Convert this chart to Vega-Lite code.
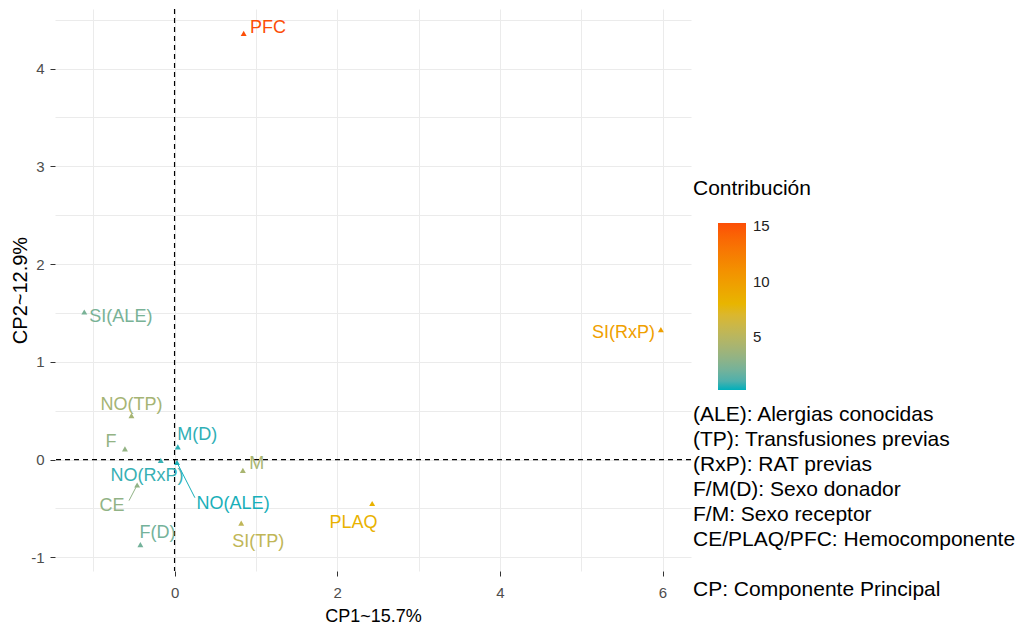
{
  "$schema": "https://vega.github.io/schema/vega-lite/v6.json",
  "width": 636,
  "height": 562,
  "autosize": {"type": "none"},
  "padding": {"left": 55, "top": 9, "right": 336, "bottom": 56},
  "background": "white",
  "config": {
    "font": "Liberation Sans",
    "view": {"stroke": null}
  },
  "title": {
    "text": "Contribución",
    "subtitle": ["(ALE): Alergias conocidas", "(TP): Transfusiones previas", "(RxP): RAT previas", "F/M(D): Sexo donador", "F/M: Sexo receptor", "CE/PLAQ/PFC: Hemocomponente", "\u200b", "CP: Componente Principal"],
    "orient": "top",
    "anchor": "start",
    "frame": "group",
    "align": "left",
    "dx": 638,
    "dy": 592,
    "offset": 0,
    "fontSize": 21,
    "fontWeight": "normal",
    "font": "Liberation Sans",
    "color": "black",
    "subtitleFontSize": 21,
    "subtitleFont": "Liberation Sans",
    "subtitleColor": "black",
    "subtitleLineHeight": 25.1,
    "subtitlePadding": 205
  },
  "data": {
    "values": [
      {"name": "PFC", "x": 0.85, "y": 4.36, "contrib": 15.3, "lx": 1.15, "ly": 4.42},
      {"name": "SI(ALE)", "x": -1.11, "y": 1.51, "contrib": 2.2, "lx": -0.66, "ly": 1.46},
      {"name": "SI(RxP)", "x": 5.98, "y": 1.33, "contrib": 9.8, "lx": 5.52, "ly": 1.30},
      {"name": "NO(TP)", "x": -0.53, "y": 0.45, "contrib": 4.0, "lx": -0.53, "ly": 0.56},
      {"name": "F", "x": -0.61, "y": 0.11, "contrib": 3.2, "lx": -0.78, "ly": 0.18},
      {"name": "M(D)", "x": 0.04, "y": 0.13, "contrib": 0.5, "lx": 0.28, "ly": 0.25},
      {"name": "NO(RxP)", "x": -0.17, "y": -0.01, "contrib": 0.6, "lx": -0.34, "ly": -0.17},
      {"name": "NO(ALE)", "x": 0.03, "y": -0.03, "contrib": 0.3, "lx": 0.72, "ly": -0.45, "sx": 0.25, "sy": -0.39},
      {"name": "CE", "x": -0.46, "y": -0.26, "contrib": 3.1, "lx": -0.77, "ly": -0.48, "sx": -0.56, "sy": -0.42},
      {"name": "M", "x": 0.84, "y": -0.11, "contrib": 4.2, "lx": 1.01, "ly": -0.05},
      {"name": "SI(TP)", "x": 0.82, "y": -0.65, "contrib": 5.4, "lx": 1.03, "ly": -0.84},
      {"name": "PLAQ", "x": 2.43, "y": -0.45, "contrib": 8.3, "lx": 2.2, "ly": -0.65},
      {"name": "F(D)", "x": -0.42, "y": -0.87, "contrib": 2.0, "lx": -0.21, "ly": -0.75}
    ]
  },
  "layer": [
    {
      "mark": {"type": "point", "shape": "triangle-up", "filled": true, "size": 35, "opacity": 1},
      "encoding": {
        "x": {"field": "x", "type": "quantitative",
          "scale": {"domain": [-1.47, 6.35], "nice": false, "zero": false},
          "axis": {"orient": "bottom", "values": [-1, 0, 1, 2, 3, 4, 5, 6], "grid": true, "gridColor": "#EBEBEB", "gridWidth": 1, "labels": false, "ticks": false, "domain": false, "title": null, "zindex": 0}},
        "y": {"field": "y", "type": "quantitative",
          "scale": {"domain": [-1.14, 4.61], "nice": false, "zero": false},
          "axis": {"orient": "left", "values": [-1, -0.5, 0, 0.5, 1, 1.5, 2, 2.5, 3, 3.5, 4, 4.5], "grid": true, "gridColor": "#EBEBEB", "gridWidth": 1, "labels": false, "ticks": false, "domain": false, "title": null, "zindex": 0}},
        "color": {"field": "contrib", "type": "quantitative",
          "scale": {"domain": [0.2, 7.75, 15.3], "range": ["#00AFBB", "#E7B800", "#FC4E07"], "interpolate": "lab"},
          "legend": {"type": "gradient", "title": null, "orient": "none", "legendX": 663, "legendY": 214, "direction": "vertical",
            "gradientLength": 167, "gradientThickness": 28, "gradientStrokeWidth": 0, "values": [5, 10, 15],
            "labelFontSize": 15, "labelColor": "#222222", "labelOffset": 7, "labelFont": "Liberation Sans"}}
      }
    },
    {
      "data": {"values": [{"v": 0}]},
      "mark": {"type": "rule", "color": "black", "strokeDash": [5, 4], "strokeWidth": 1.2},
      "encoding": {
        "x": {"field": "v", "type": "quantitative", "scale": {"domain": [-1.47, 6.35], "nice": false, "zero": false}, "axis": null}
      }
    },
    {
      "data": {"values": [{"v": 0}]},
      "mark": {"type": "rule", "color": "black", "strokeDash": [5, 4], "strokeWidth": 1.2},
      "encoding": {
        "y": {"field": "v", "type": "quantitative", "scale": {"domain": [-1.14, 4.61], "nice": false, "zero": false}, "axis": null}
      }
    },
    {
      "transform": [{"filter": "isValid(datum.sx)"}],
      "mark": {"type": "rule", "strokeWidth": 1},
      "encoding": {
        "x": {"field": "x", "type": "quantitative", "scale": {"domain": [-1.47, 6.35], "nice": false, "zero": false}, "axis": null},
        "y": {"field": "y", "type": "quantitative", "scale": {"domain": [-1.14, 4.61], "nice": false, "zero": false}, "axis": null},
        "x2": {"field": "sx"},
        "y2": {"field": "sy"},
        "color": {"field": "contrib", "type": "quantitative", "scale": {"domain": [0.2, 7.75, 15.3], "range": ["#00AFBB", "#E7B800", "#FC4E07"], "interpolate": "lab"}, "legend": null}
      }
    },
    {
      "mark": {"type": "text", "fontSize": 18, "font": "Liberation Sans", "align": "center", "baseline": "middle"},
      "encoding": {
        "x": {"field": "lx", "type": "quantitative",
          "scale": {"domain": [-1.47, 6.35], "nice": false, "zero": false},
          "axis": {"orient": "bottom", "values": [0, 2, 4, 6], "grid": false, "domain": false, "ticks": true, "tickColor": "#333333", "tickSize": 5, "tickWidth": 1, "labelFontSize": 15, "labelColor": "#4D4D4D", "labelPadding": 9, "title": "CP1~15.7%", "titleFontSize": 18, "titleFontWeight": "normal", "titleColor": "black", "titlePadding": 7}},
        "y": {"field": "ly", "type": "quantitative",
          "scale": {"domain": [-1.14, 4.61], "nice": false, "zero": false},
          "axis": {"orient": "left", "values": [-1, 0, 1, 2, 3, 4], "labelExpr": "'' + datum.value", "grid": false, "domain": false, "ticks": true, "tickColor": "#333333", "tickSize": 5, "tickWidth": 1, "labelFontSize": 15, "labelColor": "#4D4D4D", "labelPadding": 6, "title": "CP2~12.9%", "titleFontSize": 20, "titleFontWeight": "normal", "titleColor": "black", "titlePadding": 0}},
        "text": {"field": "name"},
        "color": {"field": "contrib", "type": "quantitative", "scale": {"domain": [0.2, 7.75, 15.3], "range": ["#00AFBB", "#E7B800", "#FC4E07"], "interpolate": "lab"}, "legend": null}
      }
    }
  ],
  "resolve": {"scale": {"color": "independent"}, "axis": {"x": "independent", "y": "independent"}}
}
